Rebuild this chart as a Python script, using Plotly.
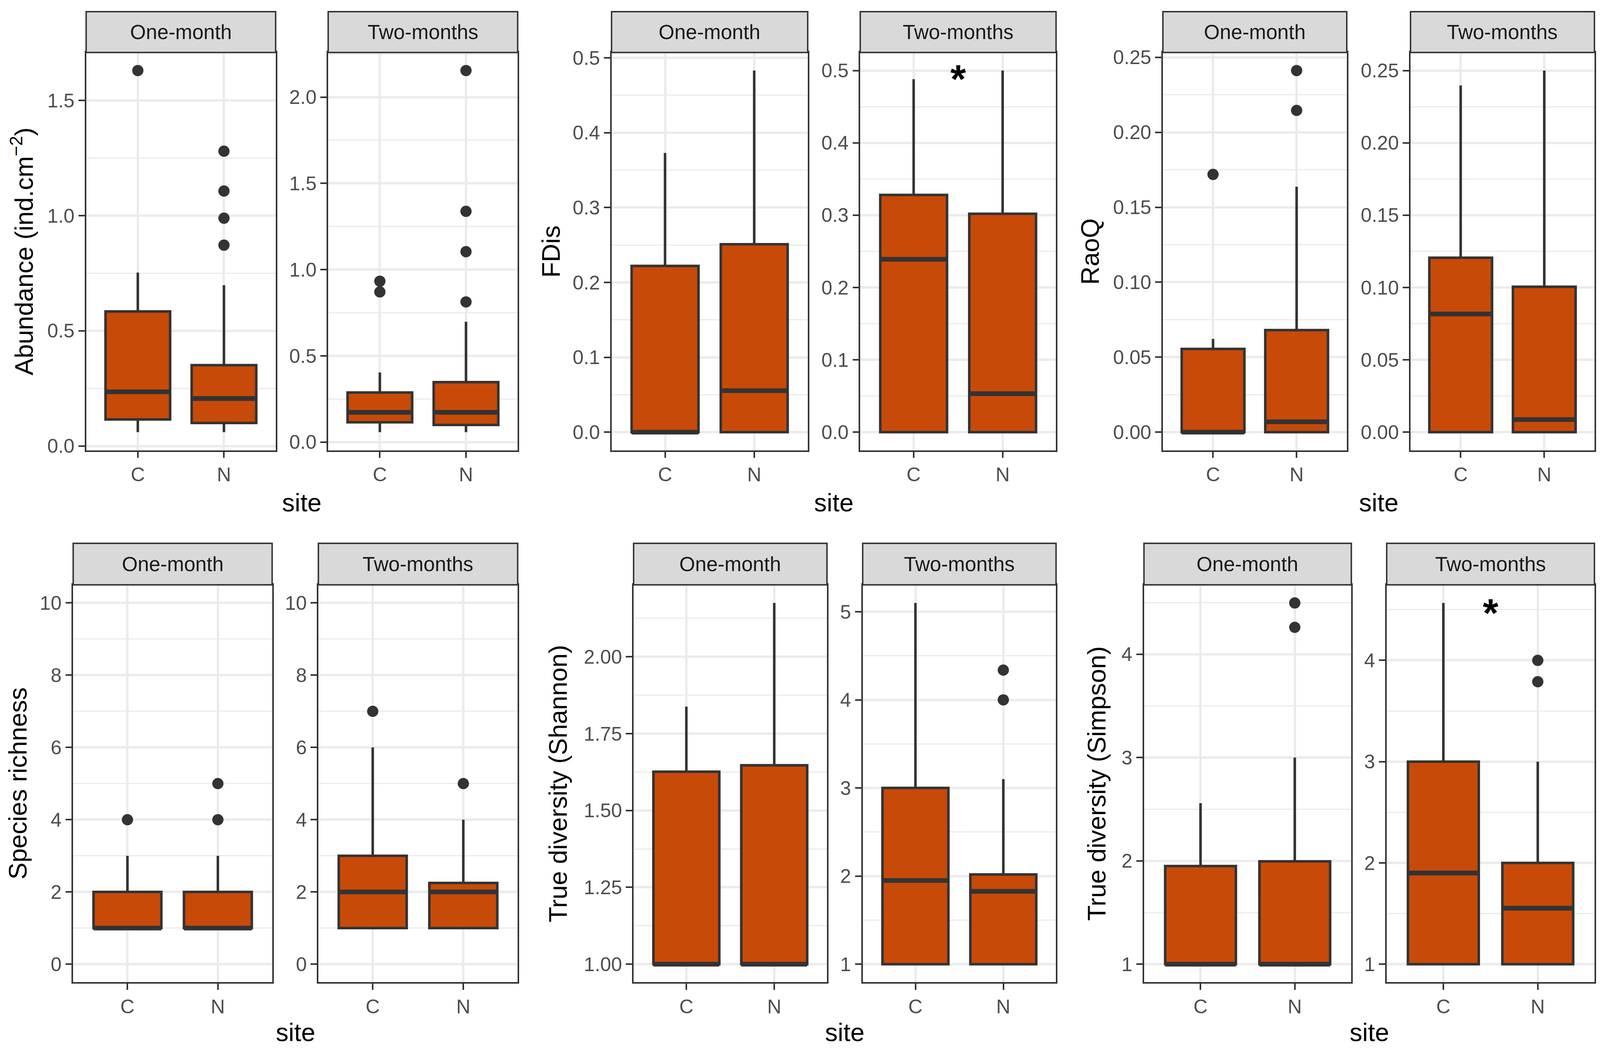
import plotly.graph_objects as go

sites = ["C", "N"]
facets = ["One-month", "Two-months"]

# box statistics, order: One-month C, One-month N, Two-months C, Two-months N
abund_lower = [0.06, 0.06, 0.058, 0.058]
abund_q1 = [0.115, 0.10, 0.115, 0.10]
abund_median = [0.235, 0.206, 0.173, 0.173]
abund_q3 = [0.584, 0.351, 0.288, 0.348]
abund_upper = [0.753, 0.698, 0.404, 0.698]
abund_outliers = [[1.63], [1.28, 1.107, 0.989, 0.872], [0.933, 0.871], [2.154, 1.338, 1.104, 0.813]]

fdis_lower = [0.0, 0.0, 0.0, 0.0]
fdis_q1 = [0.0, 0.0, 0.0, 0.0]
fdis_median = [0.0, 0.0554, 0.239, 0.0532]
fdis_q3 = [0.222, 0.251, 0.328, 0.302]
fdis_upper = [0.373, 0.483, 0.488, 0.5]
fdis_outliers = [[], [], [], []]

rao_lower = [0.0, 0.0, 0.0, 0.0]
rao_q1 = [0.0, 0.0, 0.0, 0.0]
rao_median = [0.0, 0.0069, 0.0817, 0.0087]
rao_q3 = [0.0555, 0.0681, 0.1206, 0.1005]
rao_upper = [0.0622, 0.1637, 0.2397, 0.25]
rao_outliers = [[0.1719], [0.2412, 0.2146], [], []]

rich_lower = [1, 1, 1, 1]
rich_q1 = [1, 1, 1, 1]
rich_median = [1, 1, 2, 2]
rich_q3 = [2, 2, 3, 2.25]
rich_upper = [3, 3, 6, 4]
rich_outliers = [[4], [5, 4], [7], [5]]

shan_lower = [1, 1, 1, 1]
shan_q1 = [1, 1, 1, 1]
shan_median = [1, 1, 1.95, 1.827]
shan_q3 = [1.626, 1.647, 3.0, 2.018]
shan_upper = [1.838, 2.175, 5.10, 3.10]
shan_outliers = [[], [], [], [4.338, 4.0]]

simp_lower = [1, 1, 1, 1]
simp_q1 = [1, 1, 1, 1]
simp_median = [1, 1, 1.90, 1.553]
simp_q3 = [1.95, 1.995, 3.0, 2.0]
simp_upper = [2.559, 3.0, 4.567, 3.0]
simp_outliers = [[], [4.497, 4.261], [], [4.0, 3.789]]

# significance stars: (metric index, facet index, y)
sig_metric = [1, 5]
sig_facet = [1, 1]
sig_y = [0.5, 4.55]

metrics = [
    dict(title="Abundance (ind.cm<sup>\u22122</sup>)",
         s=(abund_lower, abund_q1, abund_median, abund_q3, abund_upper), out=abund_outliers,
         dtick=[0.5, 0.5], fmt=[".1f", ".1f"], lim=None),
    dict(title="FDis",
         s=(fdis_lower, fdis_q1, fdis_median, fdis_q3, fdis_upper), out=fdis_outliers,
         dtick=[0.1, 0.1], fmt=[".1f", ".1f"], lim=None),
    dict(title="RaoQ",
         s=(rao_lower, rao_q1, rao_median, rao_q3, rao_upper), out=rao_outliers,
         dtick=[0.05, 0.05], fmt=[".2f", ".2f"], lim=None),
    dict(title="Species richness",
         s=(rich_lower, rich_q1, rich_median, rich_q3, rich_upper), out=rich_outliers,
         dtick=[2, 2], fmt=["d", "d"], lim=(0, 10)),
    dict(title="True diversity (Shannon)",
         s=(shan_lower, shan_q1, shan_median, shan_q3, shan_upper), out=shan_outliers,
         dtick=[0.25, 1], fmt=[".2f", "d"], lim=None),
    dict(title="True diversity (Simpson)",
         s=(simp_lower, simp_q1, simp_median, simp_q3, simp_upper), out=simp_outliers,
         dtick=[1, 1], fmt=["d", "d"], lim=None),
]

# layout measured in reference pixels (4550 x 2693), placed as fractions of the page
W, H = 4550, 2693
FIG_W, FIG_H = 4080, 2685   # what the browser viewport actually shows
S = 0.93                    # scale for fonts / line widths
row_y = [(7, 113, 1147), (1389, 1497, 2530)]
group_x = [
    [(237, 778), (928, 1469)],
    [(1737, 2297), (2447, 3006)],
    [(3311, 3836), (4018, 4543)],
    [(200, 768), (900, 1469)],
    [(1800, 2352), (2454, 3006)],
    [(3257, 3849), (3950, 4543)],
]
ytitle_x = [55, 1564, 3103, 42, 1584, 3122]
site_y = [1283, 2660]

FILL = "#C84A08"
DARK = "#333333"
GRID = "#EBEBEB"
FONT = "Liberation Sans, Arial, sans-serif"
BW = 0.75
TICK_FONT = dict(family=FONT, size=54 * S, color="#4D4D4D")

fig = go.Figure()
shapes = []
annotations = []
layout_axes = {}

k = 0
for mi, m in enumerate(metrics):
    row = 0 if mi < 3 else 1
    st, pt, pb = row_y[row]
    lower, q1, med, q3, upper = m["s"]
    for fi in range(2):
        k += 1
        idx = slice(2 * fi, 2 * fi + 2)
        xs = [1, 2]
        lo_v, q1_v, md_v, q3_v, up_v = lower[idx], q1[idx], med[idx], q3[idx], upper[idx]
        outs = m["out"][2 * fi:2 * fi + 2]
        xa = "x" if k == 1 else "x%d" % k
        ya = "y" if k == 1 else "y%d" % k

        fig.add_trace(go.Box(
            x=xs, q1=q1_v, median=md_v, q3=q3_v, lowerfence=lo_v, upperfence=up_v,
            width=BW, whiskerwidth=0, boxpoints=False,
            fillcolor=FILL, line=dict(color=DARK, width=7 * S),
            xaxis=xa, yaxis=ya, showlegend=False, hoverinfo="skip"))

        # thicker median bar like ggplot
        mx, my = [], []
        for x, v in zip(xs, md_v):
            mx += [x - BW / 2, x + BW / 2, None]
            my += [v, v, None]
        fig.add_trace(go.Scatter(x=mx, y=my, mode="lines",
                                 line=dict(color=DARK, width=13 * S),
                                 xaxis=xa, yaxis=ya, showlegend=False, hoverinfo="skip"))

        ox, oy = [], []
        for x, vals in zip(xs, outs):
            ox += [x] * len(vals)
            oy += vals
        if ox:
            fig.add_trace(go.Scatter(x=ox, y=oy, mode="markers",
                                     marker=dict(color=DARK, size=31 * S),
                                     xaxis=xa, yaxis=ya, showlegend=False, hoverinfo="skip"))

        # y range with ggplot-style 5% expansion
        if m["lim"] is not None:
            lo, hi = m["lim"]
        else:
            allv = lo_v + up_v + [v for vals in outs for v in vals]
            lo, hi = min(allv), max(allv)
        pad = 0.05 * (hi - lo)
        yr = [lo - pad, hi + pad]

        x0, x1 = group_x[mi][fi]
        d = m["dtick"][fi]
        layout_axes["xaxis" if k == 1 else "xaxis%d" % k] = dict(
            domain=[x0 / W, x1 / W], anchor=ya, range=[0.4, 2.6],
            tickvals=xs, ticktext=sites, showgrid=True, gridcolor=GRID, gridwidth=6 * S,
            zeroline=False, showline=True, mirror=True, linecolor=DARK, linewidth=4 * S,
            ticks="outside", ticklen=17 * S, tickwidth=4 * S, tickcolor=DARK,
            tickfont=TICK_FONT)
        layout_axes["yaxis" if k == 1 else "yaxis%d" % k] = dict(
            domain=[1 - pb / H, 1 - pt / H], anchor=xa, range=yr,
            tick0=0, dtick=d, tickformat=m["fmt"][fi],
            showgrid=True, gridcolor=GRID, gridwidth=6 * S,
            minor=dict(tick0=0, dtick=d / 2, showgrid=True, gridcolor=GRID, gridwidth=3 * S),
            zeroline=False, showline=True, mirror=True, linecolor=DARK, linewidth=4 * S,
            ticks="outside", ticklen=17 * S, tickwidth=4 * S, tickcolor=DARK,
            tickfont=TICK_FONT)

        # facet strip
        shapes.append(dict(type="rect", xref="paper", yref="paper",
                           x0=x0 / W, x1=x1 / W, y0=1 - pt / H, y1=1 - st / H,
                           fillcolor="#D9D9D9", line=dict(color=DARK, width=4 * S), layer="above"))
        annotations.append(dict(text=facets[fi], xref="paper", yref="paper",
                                x=(x0 + x1) / 2 / W, y=1 - (st + pt) / 2 / H,
                                xanchor="center", yanchor="middle", showarrow=False,
                                font=dict(family=FONT, size=56 * S, color="#1A1A1A")))

    # y-axis title
    annotations.append(dict(text=m["title"], xref="paper", yref="paper",
                            x=ytitle_x[mi] / W, y=1 - (pt + pb) / 2 / H, textangle=-90,
                            xanchor="center", yanchor="middle", showarrow=False,
                            font=dict(family=FONT, size=70 * S, color="black")))
    # x-axis title
    gx0 = group_x[mi][0][0]
    gx1 = group_x[mi][1][1]
    annotations.append(dict(text="site", xref="paper", yref="paper",
                            x=(gx0 + gx1) / 2 / W, y=1 - site_y[row] / H,
                            xanchor="center", yanchor="middle", showarrow=False,
                            font=dict(family=FONT, size=70 * S, color="black")))

# significance stars
for mi, fi, yv in zip(sig_metric, sig_facet, sig_y):
    kk = mi * 2 + fi + 1
    annotations.append(dict(text="<b>*</b>", xref="x%d" % kk, yref="y%d" % kk,
                            x=1.5, y=yv, xanchor="center", yanchor="middle", yshift=-22 * S,
                            showarrow=False, font=dict(family=FONT, size=110 * S, color="black")))

fig.update_layout(
    width=FIG_W, height=FIG_H, margin=dict(l=0, r=0, t=0, b=0),
    paper_bgcolor="white", plot_bgcolor="white", boxmode="overlay",
    shapes=shapes, annotations=annotations, **layout_axes)

fig.write_html("out.html")
